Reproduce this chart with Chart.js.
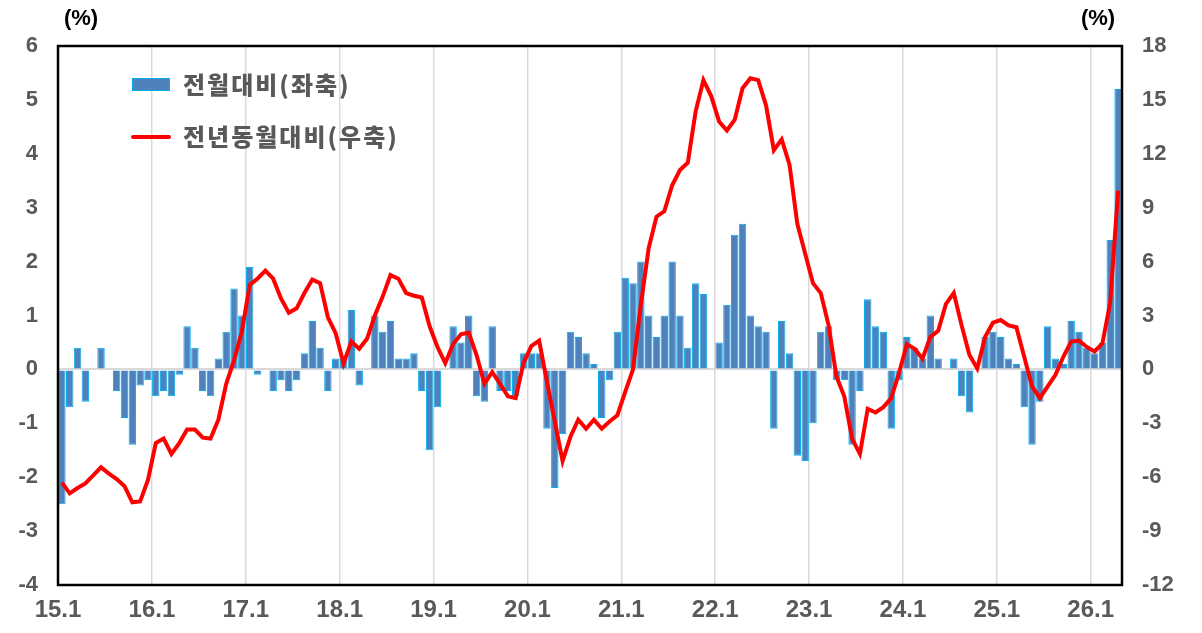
<!DOCTYPE html>
<html>
<head>
<meta charset="utf-8">
<script src="https://cdn.jsdelivr.net/npm/chart.js@4.4.1/dist/chart.umd.min.js"></script>
<style>
  html, body { margin: 0; padding: 0; background: #fff; }
</style>
</head>
<body>
<canvas id="myChart" width="1202" height="633"></canvas>
<script>
// months 2015.1 ~ 2026.4
var startYear = 15, endYear = 26, endMonth = 4;
var labels = [];
for (var y = startYear; y <= endYear; y++) {
  for (var m = 1; m <= 12; m++) {
    if (y === endYear && m > endMonth) break;
    labels.push(y + '.' + m);
  }
}

// 전월대비 (%), left axis
var momChange = [
  -2.5, -0.7, 0.4, -0.6, 0, 0.4, 0, -0.4, -0.9, -1.4, -0.3, -0.2,   // 2015
  -0.5, -0.4, -0.5, -0.1, 0.8, 0.4, -0.4, -0.5, 0.2, 0.7, 1.5, 1.0,  // 2016
  1.9, -0.1, 0, -0.4, -0.2, -0.4, -0.2, 0.3, 0.9, 0.4, -0.4, 0.2,    // 2017
  0.2, 1.1, -0.3, 0, 1.0, 0.7, 0.9, 0.2, 0.2, 0.3, -0.4, -1.5,       // 2018
  -0.7, 0, 0.8, 0.5, 1.0, -0.5, -0.6, 0.8, -0.4, -0.4, -0.5, 0.3,    // 2019
  0.3, 0.3, -1.1, -2.2, -1.2, 0.7, 0.6, 0.3, 0.1, -0.9, -0.2, 0.7,   // 2020
  1.7, 1.6, 2.0, 1.0, 0.6, 1.0, 2.0, 1.0, 0.4, 1.6, 1.4, 0,          // 2021
  0.5, 1.2, 2.5, 2.7, 1.0, 0.8, 0.7, -1.1, 0.9, 0.3, -1.6, -1.7,     // 2022
  -1.0, 0.7, 0.8, -0.2, -0.2, -1.4, -0.4, 1.3, 0.8, 0.7, -1.1, -0.2, // 2023
  0.6, 0.4, 0.2, 1.0, 0.2, 0, 0.2, -0.5, -0.8, 0, 0.6, 0.7,          // 2024
  0.6, 0.2, 0.1, -0.7, -1.4, -0.6, 0.8, 0.2, 0.1, 0.9, 0.7, 0.4,     // 2025
  0.3, 0.5, 2.4, 5.2                                                 // 2026
];

// 전년동월대비 (%), right axis
var yoyChange = [
  -6.3, -6.9, -6.6, -6.35, -5.9, -5.45, -5.8, -6.1, -6.5, -7.4, -7.35, -6.15,
  -4.1, -3.85, -4.7, -4.1, -3.35, -3.35, -3.8, -3.85, -2.8, -0.8, 0.5, 2.1,
  4.7, 5.05, 5.5, 5.05, 3.95, 3.15, 3.4, 4.25, 5.0, 4.8, 2.9, 2.0,
  0.33, 1.55, 1.15, 1.7, 3.0, 4.05, 5.25, 5.05, 4.25, 4.1, 4.0, 2.4,
  1.25, 0.35, 1.4, 1.95, 2.05, 0.8, -0.8, -0.15, -0.8, -1.5, -1.6, 0.35,
  1.3, 1.6, -0.7, -2.9, -5.1, -3.75, -2.8, -3.3, -2.8, -3.3, -2.9, -2.55,
  -1.25, 0.0, 3.6, 6.75, 8.5, 8.8, 10.25, 11.1, 11.5, 14.35, 16.1, 15.2,
  13.8, 13.3, 13.9, 15.65, 16.2, 16.1, 14.7, 12.2, 12.8, 11.4, 8.1, 6.45,
  4.8, 4.25, 2.45, -0.4, -1.5, -3.85, -4.7, -2.2, -2.4, -2.1, -1.6, -0.2,
  1.4, 1.15, 0.6, 1.8, 2.15, 3.65, 4.25, 2.45, 0.8, 0.05, 1.8, 2.6,
  2.75, 2.45, 2.35, 0.7, -0.95, -1.6, -0.95, -0.3, 0.7, 1.55, 1.6, 1.25,
  1.0, 1.45, 3.75, 9.95
];

var seriesNames = ['전월대비(좌축)', '전년동월대비(우축)'];
var leftTicks = { min: -4, max: 6, step: 1 };
var rightTicks = { min: -12, max: 18, step: 3 };

var FONT = "'Liberation Sans', 'Noto Sans CJK KR', sans-serif";
var GRAY = '#595959';

// border, (%) units and legend inside the plot
var decorations = {
  id: 'decorations',
  afterDraw: function(chart) {
    var c = chart.ctx, a = chart.chartArea;
    c.save();
    c.strokeStyle = '#000';
    c.lineWidth = 2.5;
    c.strokeRect(a.left, a.top, a.right - a.left, a.bottom - a.top);

    c.fillStyle = '#000';
    c.font = "bold 22px " + FONT;
    c.textAlign = 'center';
    c.textBaseline = 'middle';
    c.fillText('(%)', 81, 19);
    c.fillText('(%)', 1098, 19);

    // legend
    c.fillStyle = '#4F81BD';
    c.fillRect(132, 78, 38, 13);
    c.strokeStyle = '#00B0F0';
    c.lineWidth = 1;
    c.strokeRect(132.5, 78.5, 37, 12);
    c.strokeStyle = '#FF0000';
    c.lineWidth = 4;
    c.lineCap = 'round';
    c.beginPath();
    c.moveTo(133, 137);
    c.lineTo(169, 137);
    c.stroke();

    c.fillStyle = GRAY;
    c.font = "900 24px 'Noto Sans CJK KR', sans-serif";
    c.letterSpacing = '2px';
    c.textAlign = 'left';
    c.fillText(seriesNames[0], 183, 85);
    c.fillText(seriesNames[1], 183, 137);
    c.restore();
  }
};

var ctx = document.getElementById('myChart').getContext('2d');
var myChart = new Chart(ctx, {
  type: 'bar',
  data: {
    labels: labels,
    datasets: [{
      type: 'line',
      label: seriesNames[1],
      data: yoyChange,
      yAxisID: 'y1',
      borderColor: '#FF0000',
      borderWidth: 4,
      pointRadius: 0,
      tension: 0,
      order: 1
    }, {
      type: 'bar',
      label: seriesNames[0],
      data: momChange,
      yAxisID: 'y',
      backgroundColor: '#4F81BD',
      borderColor: '#00B0F0',
      borderWidth: 1,
      categoryPercentage: 1,
      barPercentage: 0.95,
      order: 2
    }]
  },
  options: {
    responsive: false,
    animation: false,
    devicePixelRatio: 1,
    layout: { padding: { top: 46, left: 0, right: 0, bottom: 0 } },
    plugins: {
      legend: { display: false },
      tooltip: { enabled: false }
    },
    scales: {
      x: {
        type: 'category',
        offset: true,
        afterFit: function(scale) { scale.height = 48; },
        border: { display: false },
        grid: {
          offset: true,
          drawTicks: false,
          lineWidth: 1.5,
          color: function(c) { return c.index % 12 === 0 ? '#d9d9d9' : 'transparent'; }
        },
        ticks: {
          autoSkip: false,
          maxRotation: 0,
          minRotation: 0,
          padding: 11,
          labelOffset: -3.9,
          color: GRAY,
          font: { family: FONT, size: 24, weight: 'bold' },
          callback: function(value, index) {
            return index % 12 === 0 ? this.getLabelForValue(value) : '';
          }
        }
      },
      y: {
        position: 'left',
        min: leftTicks.min,
        max: leftTicks.max,
        afterFit: function(scale) { scale.width = 58; },
        border: { display: false },
        grid: {
          drawTicks: false,
          lineWidth: 2,
          color: function(c) { return c.tick && c.tick.value === 0 ? '#d9d9d9' : 'transparent'; }
        },
        ticks: {
          stepSize: leftTicks.step,
          padding: 20,
          color: GRAY,
          font: { family: FONT, size: 22, weight: 'bold' }
        }
      },
      y1: {
        position: 'right',
        min: rightTicks.min,
        max: rightTicks.max,
        afterFit: function(scale) { scale.width = 80; },
        border: { display: false },
        grid: { display: false, drawTicks: false },
        ticks: {
          stepSize: rightTicks.step,
          padding: 20,
          color: GRAY,
          font: { family: FONT, size: 22, weight: 'bold' }
        }
      }
    }
  },
  plugins: [decorations]
});
</script>
</body>
</html>
